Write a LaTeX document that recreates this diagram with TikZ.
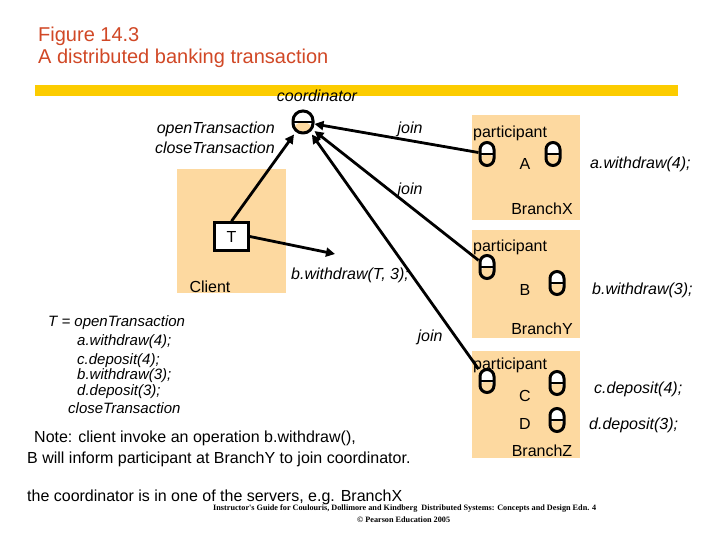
\documentclass[tikz,border=0pt]{standalone}
\usepackage{fontspec}
\setmainfont{Liberation Sans}
\newfontfamily\footserif{Liberation Serif}
\usetikzlibrary{arrows.meta}
\definecolor{boxorange}{RGB}{253,217,160}
\definecolor{baryellow}{RGB}{252,204,0}
\definecolor{titlered}{RGB}{209,72,38}
\tikzset{
  branchbox/.style={fill=boxorange, draw=none},
  objshape/.style={draw=black, line width=3pt, fill=white, inner sep=0pt,
    path picture={\fill[boxorange] (path picture bounding box.west) rectangle (path picture bounding box.south east);
                  \draw[line width=2.6pt] (path picture bounding box.west) -- (path picture bounding box.east);}},
  obj/.style={objshape, rounded corners=7pt, minimum width=14pt, minimum height=23pt},
  bigobj/.style={objshape, rounded corners=9.8pt, minimum width=20pt, minimum height=22pt},
  conn/.style={line width=2.8pt, -{Triangle[length=9pt,width=9pt]}},
  plain/.style={font=\fontsize{16}{18}\selectfont, inner sep=0pt},
  ital/.style={font=\fontsize{16}{18}\selectfont\itshape, inner sep=0pt},
  lft/.style={font=\fontsize{15}{17}\selectfont\itshape, inner sep=0pt, anchor=west},
  ttl/.style={font=\fontsize{20}{22}\selectfont, text=titlered, inner sep=0pt, anchor=west},
  foot/.style={font=\fontsize{8.2}{9}\selectfont\footserif\bfseries, inner sep=0pt}
}
\begin{document}
\begin{tikzpicture}[x=1pt, y=-1pt]
\fill[white] (0,0) rectangle (720,540);
\useasboundingbox (0,0) rectangle (720,540);
% title
\node[ttl] (t1) at (38,36) {Figure 14.3};
\node[ttl] (t2) at (38,58) {A distributed banking transaction};
\fill[baryellow] (35,85) rectangle (678,96);
\node[ital] (coordlbl) at (317,96) {coordinator};
% boxes
\fill[branchbox] (177,169) rectangle (286,293);
\fill[branchbox] (472,115) rectangle (580,220);
\fill[branchbox] (472,230) rectangle (580,338);
\fill[branchbox] (472,351) rectangle (580,458);
% coordinator
\node[bigobj] (coord) at (303,122) {};
\node[ital, anchor=east] (openT) at (275,129) {openTransaction};
\node[ital, anchor=east] (closeT) at (275,148) {closeTransaction};
% client
\node[draw=black, line width=2.6pt, fill=white, minimum width=34pt, minimum height=28pt, inner sep=0pt, font=\fontsize{16}{18}\selectfont] (T) at (231.5,236.5) {T};
\node[plain] (clientlbl) at (210,287) {Client};
\coordinate (bw) at (335,254);
\node[ital] (bwlbl) at (350,275) {b.withdraw(T, 3);};
% participants
\node[obj] (pA) at (487,154) {};
\node[obj] (oA) at (553,154) {};
\node[obj] (pB) at (487,267) {};
\node[obj] (oB) at (557,283) {};
\node[obj] (pC) at (487,381) {};
\node[obj] (oC) at (557,383) {};
\node[obj] (oD) at (557,420) {};
\node[plain, anchor=west] (partA) at (473,133) {participant};
\node[plain, anchor=west] (partB) at (473,247) {participant};
\node[plain, anchor=west] (partC) at (473,365) {participant};
\node[plain] (la) at (525,164) {A};
\node[plain] (lb) at (525,290) {B};
\node[plain] (lc) at (525,396) {C};
\node[plain] (ld) at (525,424) {D};
\node[plain] (brX) at (542,209) {BranchX};
\node[plain] (brY) at (542,329) {BranchY};
\node[plain] (brZ) at (542,451) {BranchZ};
\node[ital, anchor=west] (opA) at (590,164) {a.withdraw(4);};
\node[ital, anchor=west] (opB) at (592,290) {b.withdraw(3);};
\node[ital, anchor=west] (opC) at (594,389) {c.deposit(4);};
\node[ital, anchor=west] (opD) at (589,425) {d.deposit(3);};
% connectors
\draw[conn] (T.north) -- (coord);
\draw[conn] (T.east) -- (bw);
\draw[conn] (pA) -- (coord);
\draw[conn] (pB) -- (coord);
\draw[conn] (pC) -- (coord);
\node[ital] (j1) at (410,129) {join};
\node[ital] (j2) at (410,190) {join};
\node[ital] (j3) at (430,337) {join};
% left text
\node[lft] (l1) at (48,323) {T = openTransaction};
\node[lft] (l2) at (77,342) {a.withdraw(4);};
\node[lft] (l3) at (77,361) {c.deposit(4);};
\node[lft] (l4) at (77,376) {b.withdraw(3);};
\node[lft] (l5) at (77,392) {d.deposit(3);};
\node[lft] (l6) at (68,408) {closeTransaction};
% notes
\node[plain, anchor=west] (n1) at (34,438) {Note: client invoke an operation b.withdraw(),};
\node[plain, anchor=west] (n2) at (27,459) {B will inform participant at BranchY to join coordinator.};
\node[plain, anchor=west] (n3) at (27,497) {the coordinator is in one of the servers, e.g. BranchX};
\node[foot, anchor=west] (f1) at (213,509) {Instructor's Guide for Coulouris, Dollimore and Kindberg \ Distributed Systems: Concepts and Design Edn. 4};
\node[foot, anchor=west] (f2) at (357,520) {© Pearson Education 2005};
\end{tikzpicture}
\end{document}
